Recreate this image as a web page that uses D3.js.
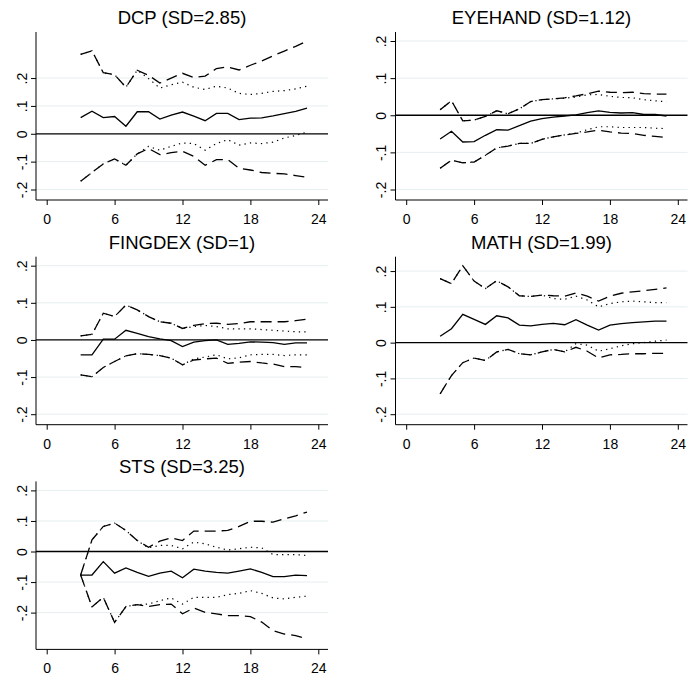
<!DOCTYPE html>
<html>
<head>
<meta charset="utf-8">
<script src="https://cdn.jsdelivr.net/npm/d3@7"></script>
<style>
    body { margin: 0; background: #fff; }
    svg { display: block; font-family: "Liberation Sans", Arial, sans-serif; }
    .grid line { stroke: #e6eeef; stroke-width: 1; }
    .axis path, .axis line { stroke: #000; }
</style>
</head>
<body>
<div id="chart"></div>
<script>
// horizons (months) and axis ticks
const horizons = [3, 4, 5, 6, 7, 8, 9, 10, 11, 12, 13, 14, 15, 16, 17, 18, 19, 20, 21, 22, 23]
const xTicks = [0, 6, 12, 18, 24]
const yTicks = [-0.2, -0.1, 0, 0.1, 0.2]
const yTickLabels = ['-.2', '-.1', '0', '.1', '.2']
const titles = ['DCP (SD=2.85)', 'EYEHAND (SD=1.12)', 'FINGDEX (SD=1)', 'MATH (SD=1.99)', 'STS (SD=3.25)']

// DCP
const dcpEst = [0.058, 0.081, 0.058, 0.062, 0.027, 0.079, 0.079, 0.053, 0.067, 0.078, 0.063, 0.047, 0.073, 0.073, 0.051, 0.056, 0.057, 0.064, 0.072, 0.080, 0.092]
const dcpDashHi = [0.285, 0.298, 0.219, 0.212, 0.167, 0.228, 0.210, 0.182, 0.200, 0.217, 0.202, 0.207, 0.234, 0.240, 0.229, 0.246, 0.261, 0.280, 0.297, 0.314, 0.333]
const dcpDotHi = [0.285, 0.298, 0.219, 0.212, 0.167, 0.228, 0.198, 0.164, 0.176, 0.185, 0.167, 0.159, 0.171, 0.164, 0.145, 0.141, 0.145, 0.152, 0.155, 0.161, 0.171]
const dcpDotLo = [-0.170, -0.139, -0.108, -0.090, -0.113, -0.072, -0.045, -0.059, -0.045, -0.033, -0.035, -0.059, -0.035, -0.021, -0.041, -0.033, -0.035, -0.030, -0.015, -0.006, 0.006]
const dcpDashLo = [-0.170, -0.139, -0.108, -0.090, -0.113, -0.072, -0.053, -0.075, -0.068, -0.063, -0.081, -0.113, -0.093, -0.093, -0.124, -0.130, -0.139, -0.142, -0.144, -0.150, -0.156]

// EYEHAND
const eyeEst = [-0.064, -0.043, -0.072, -0.071, -0.054, -0.039, -0.040, -0.028, -0.016, -0.009, -0.005, -0.002, 0.001, 0.007, 0.012, 0.008, 0.006, 0.007, 0.002, 0.002, -0.002]
const eyeDashHi = [0.015, 0.039, -0.015, -0.013, -0.003, 0.012, 0.004, 0.017, 0.037, 0.042, 0.044, 0.047, 0.052, 0.058, 0.065, 0.062, 0.061, 0.062, 0.058, 0.057, 0.057]
const eyeDotHi = [0.015, 0.039, -0.015, -0.013, -0.003, 0.012, 0.004, 0.017, 0.037, 0.042, 0.044, 0.046, 0.049, 0.055, 0.056, 0.051, 0.048, 0.047, 0.042, 0.039, 0.036]
const eyeDashLo = [-0.143, -0.121, -0.128, -0.126, -0.108, -0.088, -0.083, -0.076, -0.076, -0.065, -0.058, -0.053, -0.049, -0.045, -0.040, -0.045, -0.048, -0.049, -0.054, -0.057, -0.060]
const eyeDotLo = [-0.143, -0.121, -0.128, -0.126, -0.108, -0.088, -0.083, -0.076, -0.076, -0.065, -0.058, -0.053, -0.048, -0.039, -0.031, -0.031, -0.033, -0.033, -0.033, -0.035, -0.036]

// FINGDEX
const fingEst = [-0.040, -0.040, 0.002, 0.002, 0.026, 0.018, 0.009, 0.003, -0.002, -0.018, -0.006, -0.002, 0.000, -0.012, -0.009, -0.005, -0.006, -0.007, -0.012, -0.008, -0.008]
const fingDashHi = [0.011, 0.015, 0.072, 0.063, 0.094, 0.081, 0.063, 0.049, 0.045, 0.031, 0.039, 0.044, 0.045, 0.042, 0.044, 0.049, 0.049, 0.049, 0.049, 0.052, 0.056]
const fingDotHi = [0.011, 0.015, 0.072, 0.063, 0.094, 0.081, 0.063, 0.049, 0.045, 0.031, 0.036, 0.039, 0.036, 0.030, 0.030, 0.030, 0.028, 0.026, 0.024, 0.022, 0.022]
const fingDashLo = [-0.094, -0.099, -0.074, -0.058, -0.043, -0.037, -0.039, -0.042, -0.049, -0.067, -0.054, -0.051, -0.049, -0.063, -0.060, -0.058, -0.062, -0.065, -0.072, -0.072, -0.074]
const fingDotLo = [-0.094, -0.099, -0.074, -0.058, -0.043, -0.037, -0.039, -0.042, -0.049, -0.067, -0.051, -0.046, -0.040, -0.051, -0.048, -0.040, -0.039, -0.039, -0.042, -0.040, -0.040]

// MATH
const mathEst = [0.018, 0.039, 0.079, 0.065, 0.051, 0.075, 0.069, 0.049, 0.047, 0.051, 0.054, 0.050, 0.064, 0.049, 0.035, 0.049, 0.053, 0.056, 0.058, 0.060, 0.060]
const mathDashHi = [0.179, 0.165, 0.215, 0.172, 0.151, 0.173, 0.156, 0.131, 0.129, 0.133, 0.131, 0.130, 0.139, 0.130, 0.116, 0.130, 0.138, 0.142, 0.145, 0.149, 0.153]
const mathDotHi = [0.179, 0.165, 0.215, 0.172, 0.151, 0.173, 0.156, 0.131, 0.129, 0.133, 0.123, 0.121, 0.130, 0.119, 0.100, 0.109, 0.114, 0.116, 0.114, 0.112, 0.112]
const mathDashLo = [-0.143, -0.092, -0.056, -0.043, -0.050, -0.026, -0.019, -0.031, -0.034, -0.026, -0.019, -0.026, -0.013, -0.024, -0.043, -0.034, -0.033, -0.031, -0.031, -0.030, -0.030]
const mathDotLo = [-0.143, -0.092, -0.056, -0.043, -0.050, -0.026, -0.019, -0.031, -0.034, -0.026, -0.019, -0.026, -0.003, -0.007, -0.024, -0.017, -0.009, -0.003, 0.000, 0.004, 0.007]

// STS
const stsEst = [-0.077, -0.077, -0.033, -0.071, -0.054, -0.068, -0.081, -0.071, -0.064, -0.086, -0.058, -0.064, -0.068, -0.071, -0.064, -0.057, -0.068, -0.082, -0.082, -0.077, -0.079]
const stsDashHi = [-0.077, 0.038, 0.082, 0.093, 0.069, 0.036, 0.014, 0.034, 0.045, 0.036, 0.067, 0.067, 0.067, 0.069, 0.082, 0.099, 0.099, 0.096, 0.107, 0.117, 0.129]
const stsDotHi = [-0.077, 0.038, 0.082, 0.093, 0.069, 0.036, 0.012, 0.020, 0.020, 0.009, 0.031, 0.025, 0.014, 0.005, 0.009, 0.014, 0.012, -0.010, -0.010, -0.010, -0.013]
const stsDashLo = [-0.077, -0.181, -0.150, -0.232, -0.180, -0.174, -0.180, -0.174, -0.172, -0.204, -0.185, -0.199, -0.204, -0.210, -0.210, -0.213, -0.231, -0.259, -0.270, -0.275, -0.286]
const stsDotLo = [-0.077, -0.181, -0.150, -0.232, -0.180, -0.174, -0.172, -0.161, -0.152, -0.172, -0.150, -0.150, -0.150, -0.141, -0.137, -0.128, -0.137, -0.152, -0.155, -0.150, -0.146]

const panels = [
    {title: titles[0], est: dcpEst, dashHi: dcpDashHi, dotHi: dcpDotHi, dashLo: dcpDashLo, dotLo: dcpDotLo},
    {title: titles[1], est: eyeEst, dashHi: eyeDashHi, dotHi: eyeDotHi, dashLo: eyeDashLo, dotLo: eyeDotLo},
    {title: titles[2], est: fingEst, dashHi: fingDashHi, dotHi: fingDotHi, dashLo: fingDashLo, dotLo: fingDotLo},
    {title: titles[3], est: mathEst, dashHi: mathDashHi, dotHi: mathDotHi, dashLo: mathDashLo, dotLo: mathDotLo},
    {title: titles[4], est: stsEst, dashHi: stsDashHi, dotHi: stsDotHi, dashLo: stsDashLo, dotLo: stsDotLo}
]

const width = 688, height = 677
const colStep = 359.5, rowStep = 224.7
const plot = {left: 36, right: 328, top: 32, bottom: 200}
const padTop = 9, padBottom = 10.5
const fontFamily = '"Liberation Sans", Arial, sans-serif'

const svg = d3.select('#chart').append('svg')
    .attr('width', width)
    .attr('height', height)

const styles = [
    {key: 'dotHi', dash: '1.3,4.2', w: 1.2},
    {key: 'dotLo', dash: '1.3,4.2', w: 1.2},
    {key: 'dashHi', dash: '11,6', w: 1.3},
    {key: 'dashLo', dash: '11,6', w: 1.3},
    {key: 'est', dash: null, w: 1.3}
]

panels.forEach((p, i) => {
    const col = i % 2, row = Math.floor(i / 2)
    const g = svg.append('g')
        .attr('transform', `translate(${col * colStep},${row * rowStep})`)

    const all = [].concat(p.est, p.dashHi, p.dotHi, p.dashLo, p.dotLo)
    const lo = Math.min(d3.min(all), d3.min(yTicks))
    const hi = Math.max(d3.max(all), d3.max(yTicks))

    const x = d3.scaleLinear()
        .domain([0, 24])
        .range([plot.left + 10.7, plot.right - 9.7])
    const y = d3.scaleLinear()
        .domain([lo, hi])
        .range([plot.bottom - padBottom, plot.top + padTop])

    // grid
    g.append('g')
        .attr('class', 'grid')
        .selectAll('line')
        .data(yTicks.filter(d => d !== 0))
        .join('line')
        .attr('x1', plot.left)
        .attr('x2', plot.right)
        .attr('y1', d => y(d))
        .attr('y2', d => y(d))

    // zero line
    g.append('line')
        .attr('x1', plot.left)
        .attr('x2', plot.right)
        .attr('y1', y(0))
        .attr('y2', y(0))
        .attr('stroke', '#000')
        .attr('stroke-width', 1.3)

    // series
    const line = d3.line()
        .x((d, k) => x(horizons[k]))
        .y(d => y(d))
    styles.forEach(s => {
        g.append('path')
            .datum(p[s.key])
            .attr('d', line)
            .attr('fill', 'none')
            .attr('stroke', '#000')
            .attr('stroke-width', s.w)
            .attr('stroke-dasharray', s.dash)
    })

    // axes
    const yAxis = d3.axisLeft(y)
        .tickValues(yTicks)
        .tickSize(5)
        .tickSizeOuter(0)
        .tickFormat((d, k) => yTickLabels[k])
    const ya = g.append('g')
        .attr('class', 'axis')
        .attr('transform', `translate(${plot.left},0)`)
        .call(yAxis)
        .attr('font-size', null)
        .attr('font-family', null)
    ya.select('.domain').attr('d', `M0,${plot.top}V${plot.bottom}`)
    ya.selectAll('text')
        .attr('transform', 'rotate(-90)')
        .attr('x', 0)
        .attr('y', -9.5)
        .attr('dy', null)
        .attr('text-anchor', 'middle')
        .style('font-size', '14px')
        .style('font-family', fontFamily)
        .style('fill', '#000')

    const xAxis = d3.axisBottom(x)
        .tickValues(xTicks)
        .tickSize(5)
        .tickSizeOuter(0)
    const xa = g.append('g')
        .attr('class', 'axis')
        .attr('transform', `translate(0,${plot.bottom})`)
        .call(xAxis)
        .attr('font-size', null)
        .attr('font-family', null)
    xa.select('.domain').attr('d', `M${plot.left},0H${plot.right}`)
    xa.selectAll('text')
        .attr('y', 24)
        .attr('dy', null)
        .style('font-size', '14px')
        .style('font-family', fontFamily)
        .style('fill', '#000')

    // title
    g.append('text')
        .attr('x', (plot.left + plot.right) / 2)
        .attr('y', 24)
        .attr('text-anchor', 'middle')
        .style('font-size', '18.5px')
        .style('font-family', fontFamily)
        .attr('fill', '#000')
        .text(p.title)
})
</script>
</body>
</html>
